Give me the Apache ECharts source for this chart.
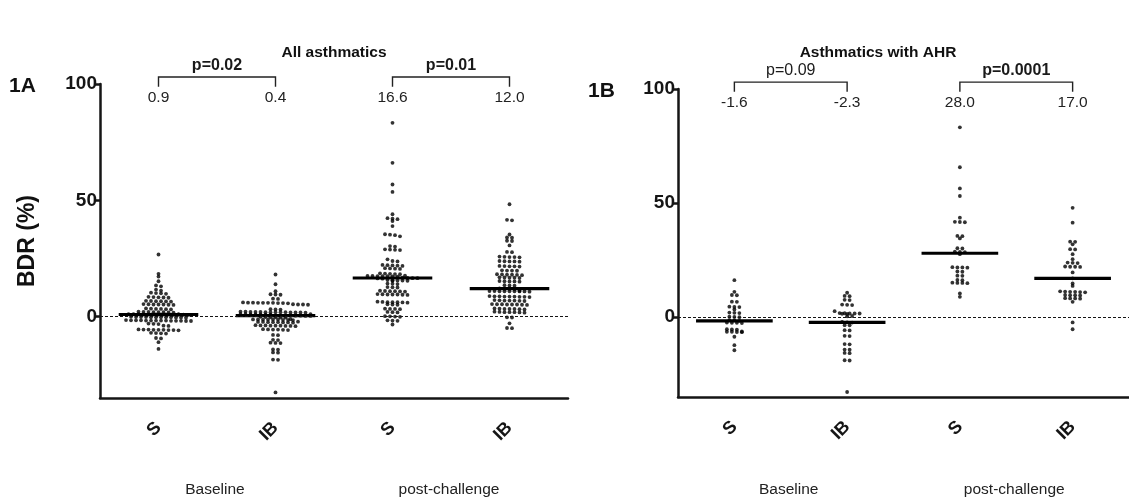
<!DOCTYPE html>
<html>
<head>
<meta charset="utf-8">
<script src="https://cdn.jsdelivr.net/npm/echarts@6/dist/echarts.min.js"></script>
<style>
html,body{margin:0;padding:0;background:#fff;}
#c{width:1129px;height:499px;}
</style>
</head>
<body>
<div id="c"></div>
<script>
// ---------------- data ----------------
const categories = ['S', 'IB', 'S', 'IB'];
const groupLabels = ['Baseline', 'post-challenge'];
const panelTitles = ['All asthmatics', 'Asthmatics with AHR'];
const panelTags = ['1A', '1B'];
const yTicks = [0, 50, 100];
const yName = 'BDR (%)';

const medA = [0.9, 0.4, 16.6, 12.0];
const medB = [-1.6, -2.3, 28.0, 17.0];
const medLabelsA = ['0.9', '0.4', '16.6', '12.0'];
const medLabelsB = ['-1.6', '-2.3', '28.0', '17.0'];
const pA = ['p=0.02', 'p=0.01'];
const pB = ['p=0.09', 'p=0.0001'];
const pBoldA = [true, true];
const pBoldB = [false, true];

// Panel A (all asthmatics)
const A_S_base = [26.7, 18.4, 17.2, 15.2, 13.4, 13.0, 11.6, 11.2, 10.3, 10.0, 9.8, 10.1,
  8.5, 8.3, 8.2, 8.4, 8.1, 6.7, 6.6, 6.5, 6.8, 6.4, 6.6, 5.2, 5.3, 5.1, 5.2, 5.0, 5.4, 5.2,
  3.3, 3.4, 3.2, 3.3, 3.1, 3.5, 1.9, 2.0, 1.8, 1.9, 2.1, 1.7, 1.9, 2.0,
  0.9, 1.0, 0.8, 0.9, 1.1, 0.9, 0.8, 1.0, 0.9, 0.9, 0.7, 1.0, 0.9, 0.8,
  -0.3, -0.2, -0.4, -0.3, -0.1, -0.3, -0.5, -0.2, -0.3, -0.4, -0.3, -0.2,
  -1.7, -1.6, -1.8, -1.7, -1.9, -1.5, -1.7, -1.8, -1.6, -1.7, -1.8, -1.7, -1.6, -1.9,
  -3.1, -3.0, -3.2, -3.9, -4.0,
  -5.7, -5.6, -5.8, -5.7, -5.5, -5.9, -5.7, -5.6, -5.8,
  -7.2, -7.0, -7.3, -7.1, -9.2, -9.4, -11.0, -13.9];
const A_IB_base = [18.1, 13.9, 10.9, 9.5, 9.6, 9.4, 7.6, 7.7,
  5.9, 6.0, 5.8, 5.9, 6.1, 5.9, 5.8, 6.0, 5.9, 5.7, 5.2, 5.1, 5.3, 5.2, 3.1, 3.2, 3.0,
  1.9, 2.0, 1.8, 1.9, 2.1, 1.9, 1.8, 2.0, 1.9, 1.7, 2.0, 1.9, 1.8, 2.1,
  0.9, 1.0, 0.8, 0.9, 1.1, 0.9, 0.8, 1.0, 0.4, 0.5, 0.3, 0.4, 0.4, 0.5, 0.3, 0.4,
  -0.3, -0.2, -0.4, -0.3, -0.1, -0.4,
  -1.3, -1.2, -1.4, -1.3, -1.1, -1.3, -1.5, -1.2, -1.3, -1.4,
  -2.4, -2.3, -2.5, -2.4, -2.2, -2.6, -2.4, -2.3, -2.5,
  -3.9, -3.8, -4.0, -3.9, -3.7, -4.1, -3.9, -3.8, -4.0,
  -5.6, -5.5, -5.7, -5.6, -5.4, -5.8,
  -7.9, -8.0, -10.0, -10.1, -11.3, -11.2, -11.4, -14.1, -14.2, -15.4, -15.5, -18.5, -18.6, -32.6];
const A_S_post = [83.3, 66.1, 56.8, 53.6, 44.0, 42.1, 42.3, 41.9, 41.1, 38.9, 35.2, 35.4, 35.0, 34.5,
  30.3, 30.1, 28.7, 28.9, 28.6, 28.8, 24.6, 23.7, 23.9, 22.0, 22.1, 21.9, 22.2, 21.8,
  20.6, 20.7, 20.5, 20.8, 18.4, 18.5, 18.3, 18.6, 18.2,
  17.4, 17.5, 17.3, 17.4, 17.6, 17.2, 17.4, 17.5, 16.5, 16.6, 16.4, 16.5, 16.7, 16.3,
  15.5, 15.6, 15.4, 15.5, 15.7, 15.3, 14.1, 14.2, 14.0, 12.6, 12.7, 12.5,
  10.9, 11.0, 10.8, 10.9, 11.1, 10.7, 9.5, 9.6, 9.4, 9.5, 9.7, 9.3, 9.5,
  6.2, 6.3, 6.1, 6.2, 6.4, 6.0, 6.2, 5.2, 5.3, 5.1, 3.3, 3.4, 3.2, 3.3, 1.9, 2.0, 1.8,
  0.0, 0.1, -0.1, 0.2, -1.7, -1.6, -1.8, -3.4];
const A_IB_post = [48.3, 41.4, 41.6, 35.3, 33.9, 34.0, 32.5, 32.6, 30.6, 27.7, 27.8,
  25.6, 25.7, 25.5, 25.6, 25.8, 23.7, 23.8, 23.6, 23.7, 23.9, 21.6, 21.7, 21.5, 21.6, 21.8,
  19.8, 19.9, 19.7, 19.8, 18.0, 18.1, 17.9, 18.0, 18.2, 17.8, 16.7, 16.8, 16.6, 16.7, 16.9,
  15.1, 15.2, 15.0, 15.1, 15.3, 13.4, 13.5, 13.3, 12.0, 12.1, 11.9, 12.0,
  10.9, 11.0, 10.8, 10.9, 11.1, 10.7, 10.9, 11.0, 10.8, 10.9,
  8.6, 8.7, 8.5, 8.6, 8.8, 8.4, 8.6, 8.7, 8.5, 6.9, 7.0, 6.8, 6.9, 7.1, 6.7, 6.9,
  5.2, 5.3, 5.1, 5.2, 5.4, 5.0, 5.2, 5.3, 3.3, 3.4, 3.2, 3.3, 3.5, 3.1, 3.3,
  1.9, 2.0, 1.8, 1.9, 2.1, 1.7, 1.9, -0.3, -0.4, -2.9, -4.9, -5.0];

// Panel B (asthmatics with AHR)
const B_S_base = [16.2, 11.1, 9.6, 9.7, 6.7, 6.8, 4.5, 4.6, 4.4, 3.4, 1.9, 2.0, 1.8, 0.1, 0.2, 0.0,
  -1.3, -1.4, -1.6, -2.5, -2.6, -2.4, -2.5, -5.4, -5.5, -5.3, -6.4, -6.5, -6.3, -6.4, -6.6,
  -8.6, -12.3, -14.5];
const B_IB_base = [10.7, 9.2, 9.3, 7.5, 7.6, 5.4, 5.5, 5.3, 2.6, 1.6, 1.7, 1.5, 1.6, 1.8, 1.4, 1.6,
  0.4, 0.5, -2.1, -2.3, -2.4, -3.5, -3.6, -5.7, -5.8, -8.2, -8.3, -11.8, -11.9, -14.2, -14.3,
  -15.7, -15.8, -18.9, -19.0, -32.8];
const B_S_post = [83.2, 65.7, 56.4, 53.1, 43.6, 41.7, 41.8, 41.6, 35.5, 35.6, 34.5, 30.1, 30.2,
  28.6, 28.5, 28.7, 27.6, 21.8, 21.9, 21.7, 21.8, 19.9, 20.0, 18.1, 18.2, 16.2, 16.3,
  15.0, 15.1, 14.9, 15.0, 10.4, 8.9];
const B_IB_post = [47.9, 41.4, 33.0, 33.1, 31.9, 29.7, 29.8, 27.6, 25.4, 23.8, 23.9, 23.7,
  22.1, 22.2, 22.0, 22.1, 19.6, 17.0, 14.8, 13.7, 11.1, 11.2, 11.0, 11.1, 11.3, 10.9,
  9.6, 9.7, 9.5, 9.6, 8.2, 8.3, 8.1, 8.2, 6.7, -2.3, -5.3];

const groupsA = [A_S_base, A_IB_base, A_S_post, A_IB_post];
const groupsB = [B_S_base, B_IB_base, B_S_post, B_IB_post];

// ---------------- chart ----------------
const chart = echarts.init(document.getElementById('c'));
const FONT = '"Liberation Sans", Arial, sans-serif';
const INK = '#151515';

function xCat(gi) {
  return {
    type: 'category', gridIndex: gi, data: categories, boundaryGap: true,
    axisLine: {onZero: false, lineStyle: {color: INK, width: 2.5}},
    axisTick: {alignWithLabel: true, length: 6, lineStyle: {color: INK, width: 2.5}},
    axisLabel: {rotate: 45, margin: 27, fontFamily: FONT, fontWeight: 'bold', fontSize: 18, color: INK},
    splitLine: {show: false}
  };
}
function xVal(gi) {
  return {type: 'value', gridIndex: gi, min: -0.5, max: 3.5, show: false,
    axisLine: {onZero: false}, splitLine: {show: false}};
}
function yAx(gi) {
  return {
    type: 'value', gridIndex: gi, min: -35, max: 100,
    axisLine: {show: true, onZero: false, lineStyle: {color: INK, width: 2.5}},
    axisTick: {show: true, length: 6, customValues: yTicks, lineStyle: {color: INK, width: 2.5}},
    axisLabel: {customValues: yTicks, fontFamily: FONT, fontWeight: 'bold', fontSize: 19, color: INK, margin: 3},
    splitLine: {show: false}
  };
}

chart.setOption({
  animation: false,
  backgroundColor: '#fff',
  grid: [
    {left: 100, right: 561, top: 84, bottom: 101},
    {left: 678, right: -5, top: 89, bottom: 102}
  ],
  xAxis: [xCat(0), xVal(0), xCat(1), xVal(1)],
  yAxis: [yAx(0), yAx(1)]
});

// GraphPad-like layout: close values share a row, row members are spread evenly around the centre
function rowLayout(values, sx, sy, gap, rowH) {
  const idx = values.map((v, i) => i).sort((a, b) => values[b] - values[a]);
  const out = new Array(values.length);
  let row = [];
  let rowTop = null;
  const flush = () => {
    const n = row.length;
    row.forEach((i, k) => { out[i] = ((k - (n - 1) / 2) * gap) / sx; });
    row = [];
  };
  for (const i of idx) {
    const y = values[i] * sy;
    if (rowTop === null || rowTop - y > rowH) { if (row.length) flush(); rowTop = y; }
    row.push(i);
  }
  if (row.length) flush();
  return out;
}

function scales(gi) {
  const f = {xAxisIndex: gi * 2 + 1, yAxisIndex: gi};
  const p0 = chart.convertToPixel(f, [0, 0]);
  const p1 = chart.convertToPixel(f, [1, 1]);
  return {sx: p1[0] - p0[0], sy: p0[1] - p1[1]};
}

const series = [];
const panels = [
  {groups: groupsA, med: medA, medLabels: medLabelsA, p: pA, pBold: pBoldA},
  {groups: groupsB, med: medB, medLabels: medLabelsB, p: pB, pBold: pBoldB}
];
const DOT_GAP = 5.0;
const ROW_H = 2.4;

panels.forEach((pn, gi) => {
  const sc = scales(gi);
  const pts = [];
  pn.groups.forEach((vals, ci) => {
    const offs = rowLayout(vals, sc.sx, sc.sy, DOT_GAP, ROW_H);
    vals.forEach((v, k) => pts.push([ci + offs[k], v]));
  });
  series.push({
    type: 'scatter', xAxisIndex: gi * 2 + 1, yAxisIndex: gi, data: [], silent: true,
    markLine: {
      silent: true, symbol: ['none', 'none'], label: {show: false},
      lineStyle: {color: INK, width: 1, type: [3, 2]},
      data: [{yAxis: 0}]
    }
  });
  series.push({
    type: 'scatter', xAxisIndex: gi * 2 + 1, yAxisIndex: gi, data: pts,
    symbol: 'circle', symbolSize: 3.8, itemStyle: {color: '#000'}, z: 3
  });
  series.push({
    type: 'custom', xAxisIndex: gi * 2 + 1, yAxisIndex: gi, z: 4,
    data: pn.med.map((m, i) => [i, m]),
    renderItem: function (params, api) {
      const i = api.value(0), m = api.value(1);
      const a = api.coord([i - 0.34, m]), b = api.coord([i + 0.34, m]);
      return {type: 'line', shape: {x1: a[0], y1: a[1], x2: b[0], y2: b[1]},
        style: {stroke: '#000', lineWidth: 3.2}};
    }
  });
  series.push({
    type: 'custom', xAxisIndex: gi * 2 + 1, yAxisIndex: gi, z: 5, clip: false,
    data: [[0, 1, 0], [2, 3, 1]],
    renderItem: function (params, api) {
      const a = api.value(0), b = api.value(1), k = api.value(2);
      const pa0 = api.coord([a, 103]), pb0 = api.coord([b, 103]);
      const pa1 = api.coord([a, 98.8]), pb1 = api.coord([b, 98.8]);
      const pt = api.coord([(a + b) / 2, 108]);
      const la = api.coord([a, 94]), lb = api.coord([b, 94]);
      const stroke = {stroke: '#222', lineWidth: 1.4, fill: null};
      return {type: 'group', children: [
        {type: 'polyline', shape: {points: [pa1, pa0, pb0, pb1]}, style: stroke},
        {type: 'text', x: pt[0], y: pt[1], style: {text: pn.p[k], fontFamily: FONT,
          fontWeight: pn.pBold[k] ? 'bold' : 'normal', fontSize: 16, fill: '#1a1a1a',
          align: 'center', verticalAlign: 'middle'}},
        {type: 'text', x: la[0], y: la[1], style: {text: pn.medLabels[a], fontFamily: FONT,
          fontSize: 15.5, fill: '#222', align: 'center', verticalAlign: 'middle'}},
        {type: 'text', x: lb[0], y: lb[1], style: {text: pn.medLabels[b], fontFamily: FONT,
          fontSize: 15.5, fill: '#222', align: 'center', verticalAlign: 'middle'}}
      ]};
    }
  });
});

const graphics = [];
[0, 1].forEach(gi => {
  const f = {xAxisIndex: gi * 2 + 1, yAxisIndex: gi};
  const top = chart.convertToPixel(f, [0, 100]);
  const left = chart.convertToPixel(f, [-0.5, 0]);
  const right = chart.convertToPixel(f, [3.5, 0]);
  const titleX = gi === 0 ? (left[0] + right[0]) / 2 : left[0] + 200;
  graphics.push({type: 'text', x: titleX, y: 53, style: {text: panelTitles[gi], fontFamily: FONT,
    fontWeight: 'bold', fontSize: 15.5, fill: '#111', align: 'center', verticalAlign: 'middle'}});
  graphics.push({type: 'text', x: gi === 0 ? 9 : 588, y: top[1] + 2, style: {text: panelTags[gi], fontFamily: FONT,
    fontWeight: 'bold', fontSize: 21, fill: '#111', align: 'left', verticalAlign: 'middle'}});
  [0, 1].forEach(k => {
    const c = chart.convertToPixel(f, [k * 2 + 0.5, 0]);
    graphics.push({type: 'text', x: c[0] - 2, y: 490, style: {text: groupLabels[k], fontFamily: FONT,
      fontSize: 15.5, fill: '#222', align: 'center', verticalAlign: 'middle'}});
  });
});
graphics.push({type: 'text', x: 28, y: 241, rotation: Math.PI / 2, style: {text: yName, fontFamily: FONT,
  fontWeight: 'bold', fontSize: 23, fill: '#111', align: 'center', verticalAlign: 'middle'}});

chart.setOption({series: series, graphic: graphics});
</script>
</body>
</html>
